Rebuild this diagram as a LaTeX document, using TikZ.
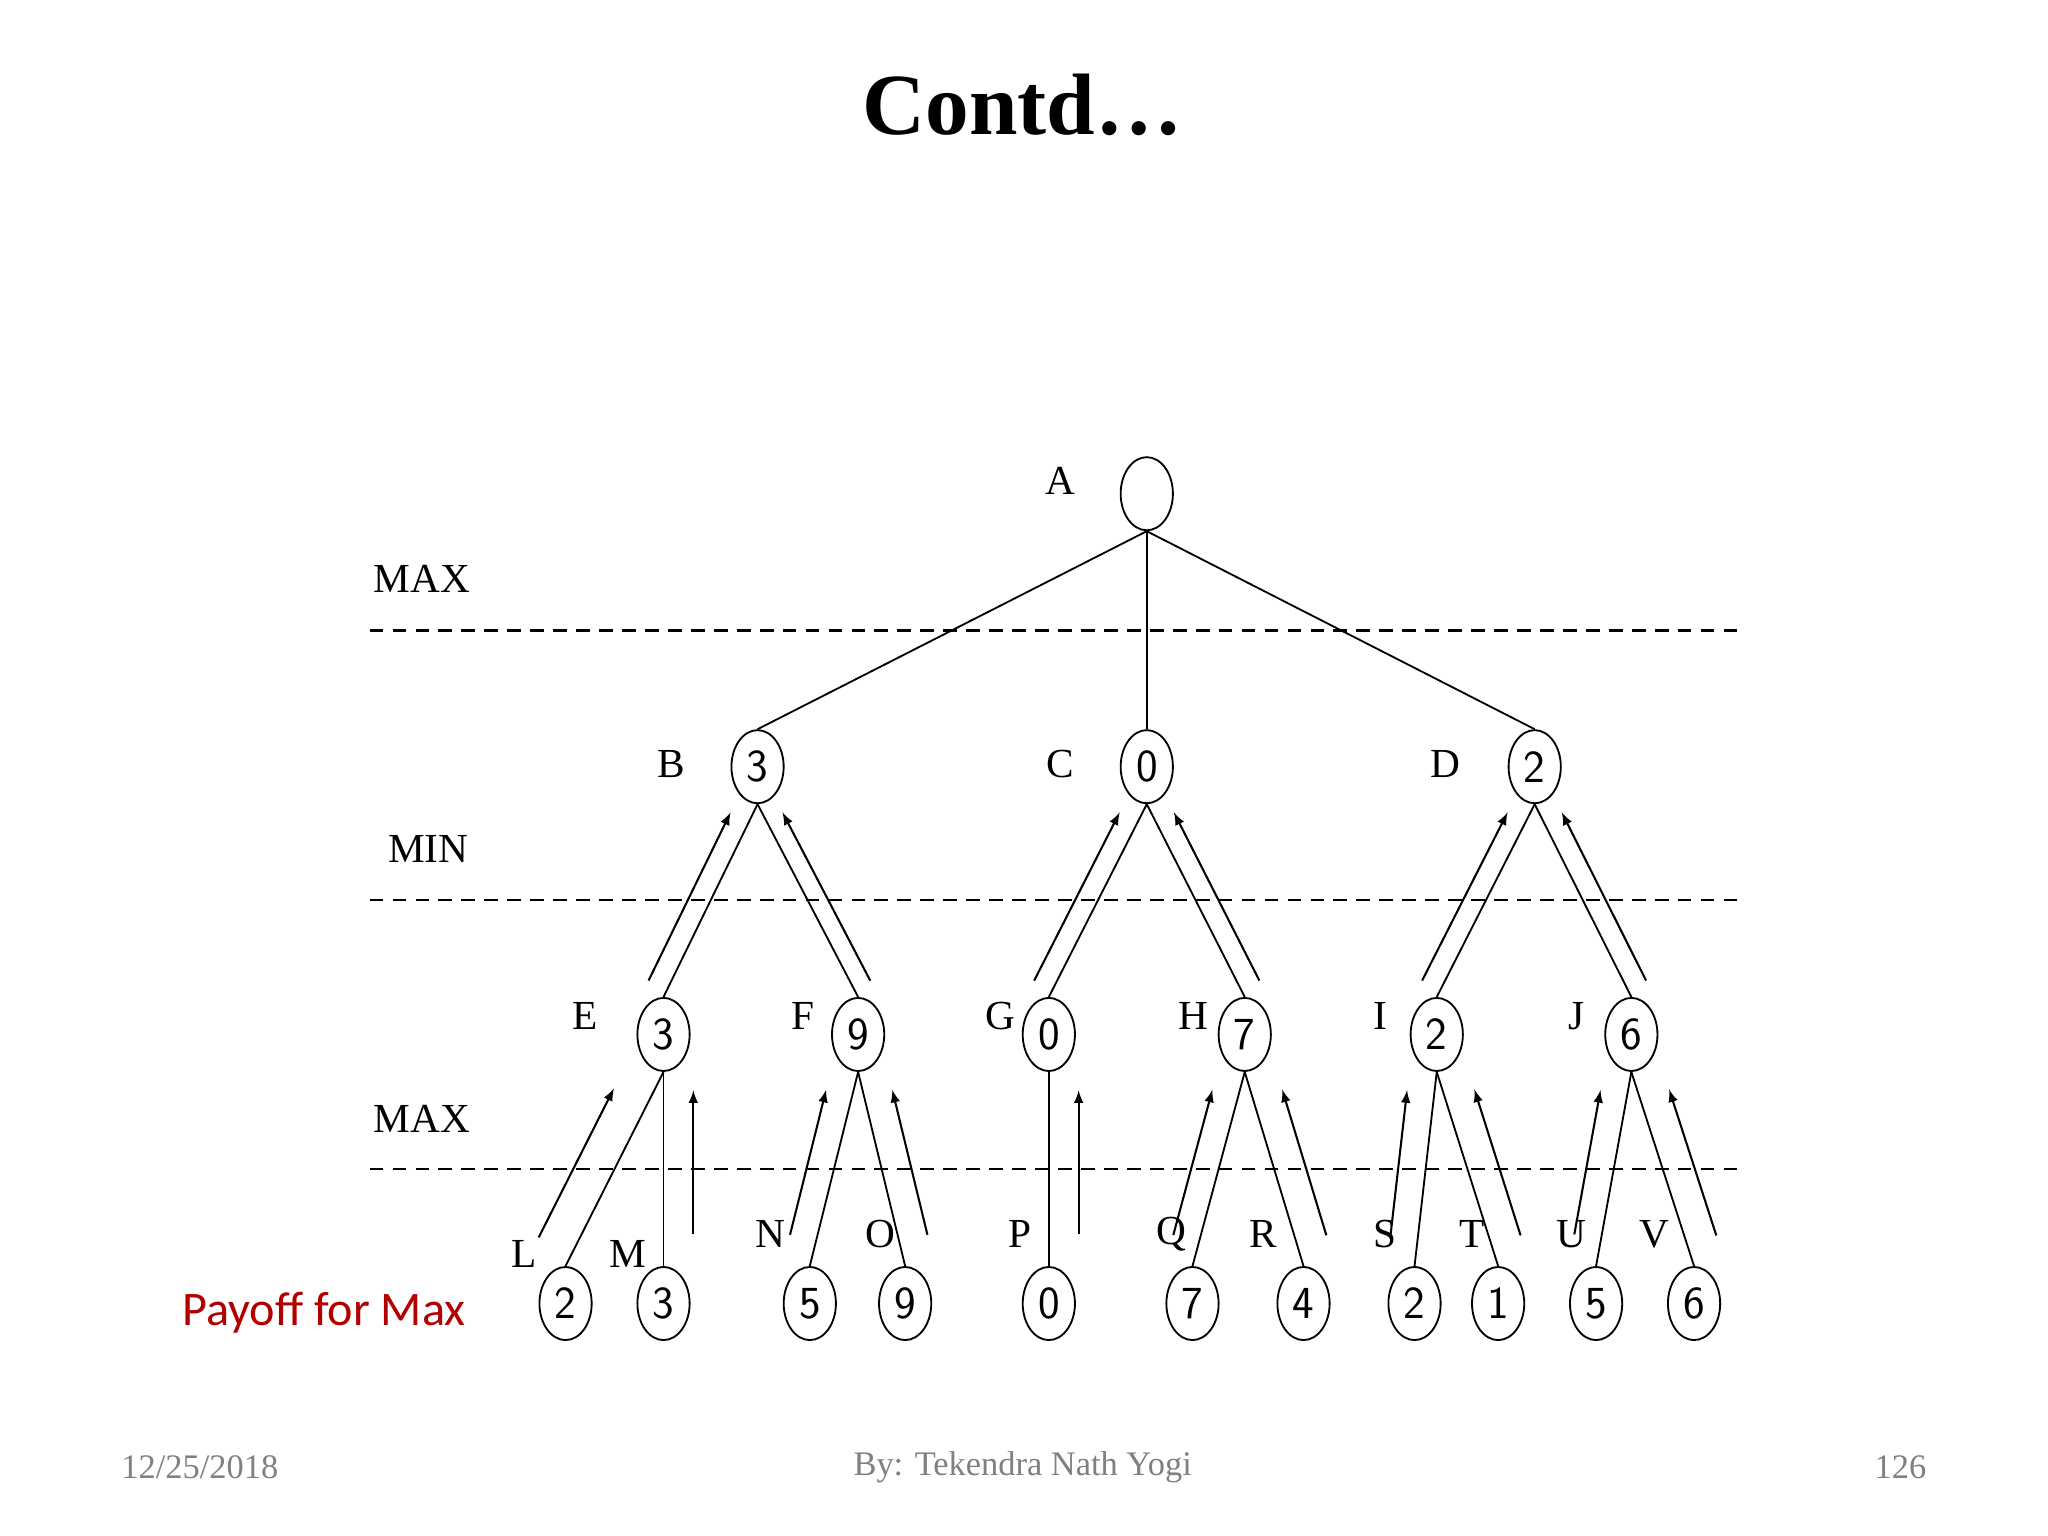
\documentclass[tikz,border=0pt]{standalone}
\usepackage{fontspec}
\setmainfont{Liberation Serif}
\newfontfamily\payfont{Carlito}
\usetikzlibrary{shapes.geometric}

\tikzstyle{state} = [draw, ellipse, minimum width=0.8cm, minimum height=1.12cm, inner sep=0pt, font=\fontsize{20}{22}\selectfont\sffamily]
\tikzstyle{lbl} = [font=\fontsize{18}{20}\selectfont]
\tikzstyle{level} = [draw, dashed, dash pattern=on 6pt off 4pt, line width=1.2pt]
\tikzstyle{back} = [->, >=latex, line width=0.9pt]

\begin{document}
\begin{tikzpicture}[x=0.02cm, y=-0.02cm, line width=0.8pt]
  \useasboundingbox (0,0) rectangle (1568,1176);
  \node [font=\fontsize{38}{40}\selectfont\bfseries] (title) at (783,80) {Contd…};

  % levels
  \foreach \y/\t/\n in {483/MAX/l1, 689/MIN/l2, 895/MAX/l3} {
    \coordinate (\n w) at (283,\y);
    \coordinate (\n e) at (1330,\y);
    \draw [level] (\n w) -- (\n e);
  }
  \node [lbl] (max1) at (323,443) {MAX};
  \node [lbl] (min1) at (328,650) {MIN};
  \node [lbl] (max2) at (323,857) {MAX};

  % tree nodes
  \node [state] (A) at (878,378) {};
  \foreach \n/\x/\v in {B/580/3, C/878/0, D/1175/2}
    \node [state] (\n) at (\x,587) {\v};
  \foreach \n/\x/\v in {E/508/3, F/657/9, G/803/0, H/953/7, I/1100/2, J/1249/6}
    \node [state] (\n) at (\x,792) {\v};
  \foreach \n/\x/\v in {L/433/2, M/508/3, N/620/5, O/693/9, P/803/0, Q/913/7, R/998/4, S/1083/2, T/1147/1, U/1222/5, V/1297/6}
    \node [state] (\n) at (\x,998) {\v};

  % letters
  \foreach \n/\x/\y in {A/812/368, B/514/585, C/812/585, D/1107/585, E/448/778, F/615/778, G/766/778, H/914/778, I/1057/778, J/1207/778, L/401/960, M/481/960, N/590/945, O/674/945, P/781/945, Q/897/945, R/967/945, S/1060/945, T/1127/945, U/1203/945, V/1267/945}
    \node [lbl] (t\n) at (\x,\y) {\n};

  % edges
  \foreach \p/\c in {A/B, A/C, A/D, B/E, B/F, C/G, C/H, D/I, D/J, E/L, E/M, F/N, F/O, G/P, H/Q, H/R, I/S, I/T, J/U, J/V}
    \draw (\p.south) -- (\c.north);

  % backed-up values
  \foreach \c/\p/\s in {E/B/-10, F/B/9, G/C/-10, H/C/10, I/D/-10, J/D/10}
    \draw [back, shorten <=8pt, shorten >=4pt] ([xshift=\s] \c.north) -- ([xshift=\s] \p.south);
  \foreach \c/\p/\s in {L/E/-18, M/E/13, N/F/-12, O/F/13, P/G/13, Q/H/-12, R/H/14, S/I/-12, T/I/14, U/J/-12, V/J/14}
    \draw [back, shorten <=14pt, shorten >=8pt] ([xshift=\s] \c.north) -- ([xshift=\s] \p.south);

  \node [font=\fontsize{21}{24}\selectfont\payfont, text=red!70!black] (pay) at (248,1005) {Payoff for Max};

  % footer
  \node [font=\fontsize{15}{18}\selectfont, text=gray] (date) at (153,1123) {12/25/2018};
  \node [font=\fontsize{15}{18}\selectfont, text=gray] (by) at (783,1123) {By: Tekendra Nath Yogi};
  \node [font=\fontsize{15}{18}\selectfont, text=gray] (page) at (1455,1123) {126};
\end{tikzpicture}
\end{document}
